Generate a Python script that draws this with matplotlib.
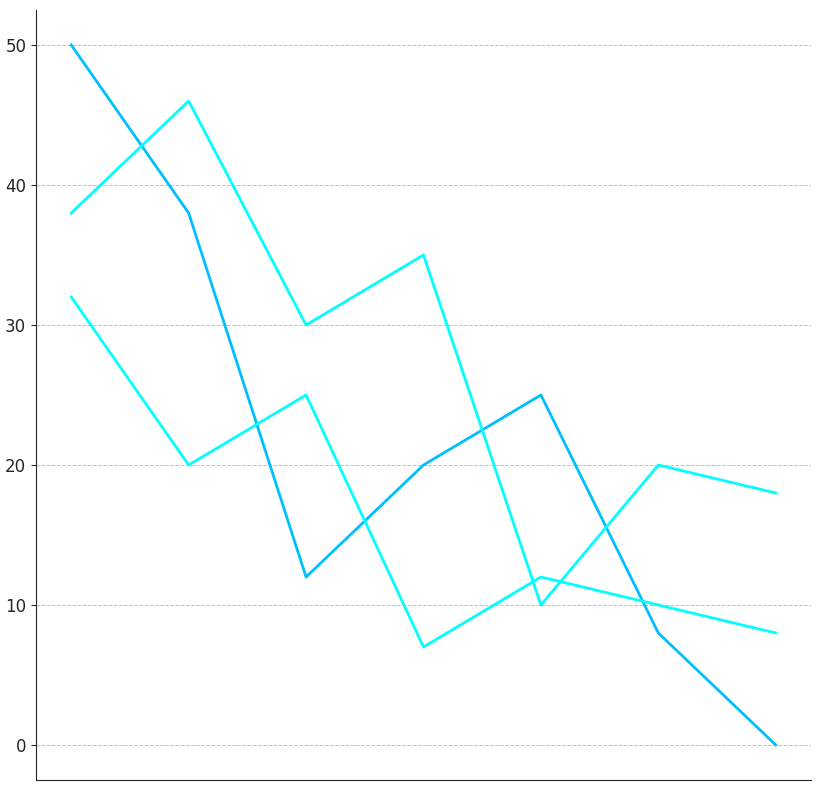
import matplotlib
matplotlib.use("Agg")
import matplotlib.pyplot as plt

x = list(range(7))
series_a = [50, 38, 12, 20, 25, 8, 0]
series_b = [38, 46, 30, 35, 10, 20, 18]
series_c = [32, 20, 25, 7, 12, 10, 8]
colors = ["#00BFFF", "#00FFFF", "#00FFFF"]

fig = plt.figure(figsize=(8.2, 7.9), dpi=100)
ax = fig.add_axes([36 / 820, 10 / 790, 775 / 820, 770 / 790])

for ys, c in zip([series_a, series_b, series_c], colors):
    ax.plot(x, ys, color=c, linewidth=2)

ax.set_yticks([0, 10, 20, 30, 40, 50])
ax.set_xticks([])
ax.tick_params(axis="y", labelsize=12, labelcolor="#262626", color="#262626")
ax.grid(axis="y", linestyle="--", color="#c0c0c0", linewidth=0.7)
ax.set_axisbelow(True)
ax.spines["top"].set_visible(False)
ax.spines["right"].set_visible(False)
for side in ["left", "bottom"]:
    ax.spines[side].set_color("#262626")

fig.savefig("out.png", dpi=100)
